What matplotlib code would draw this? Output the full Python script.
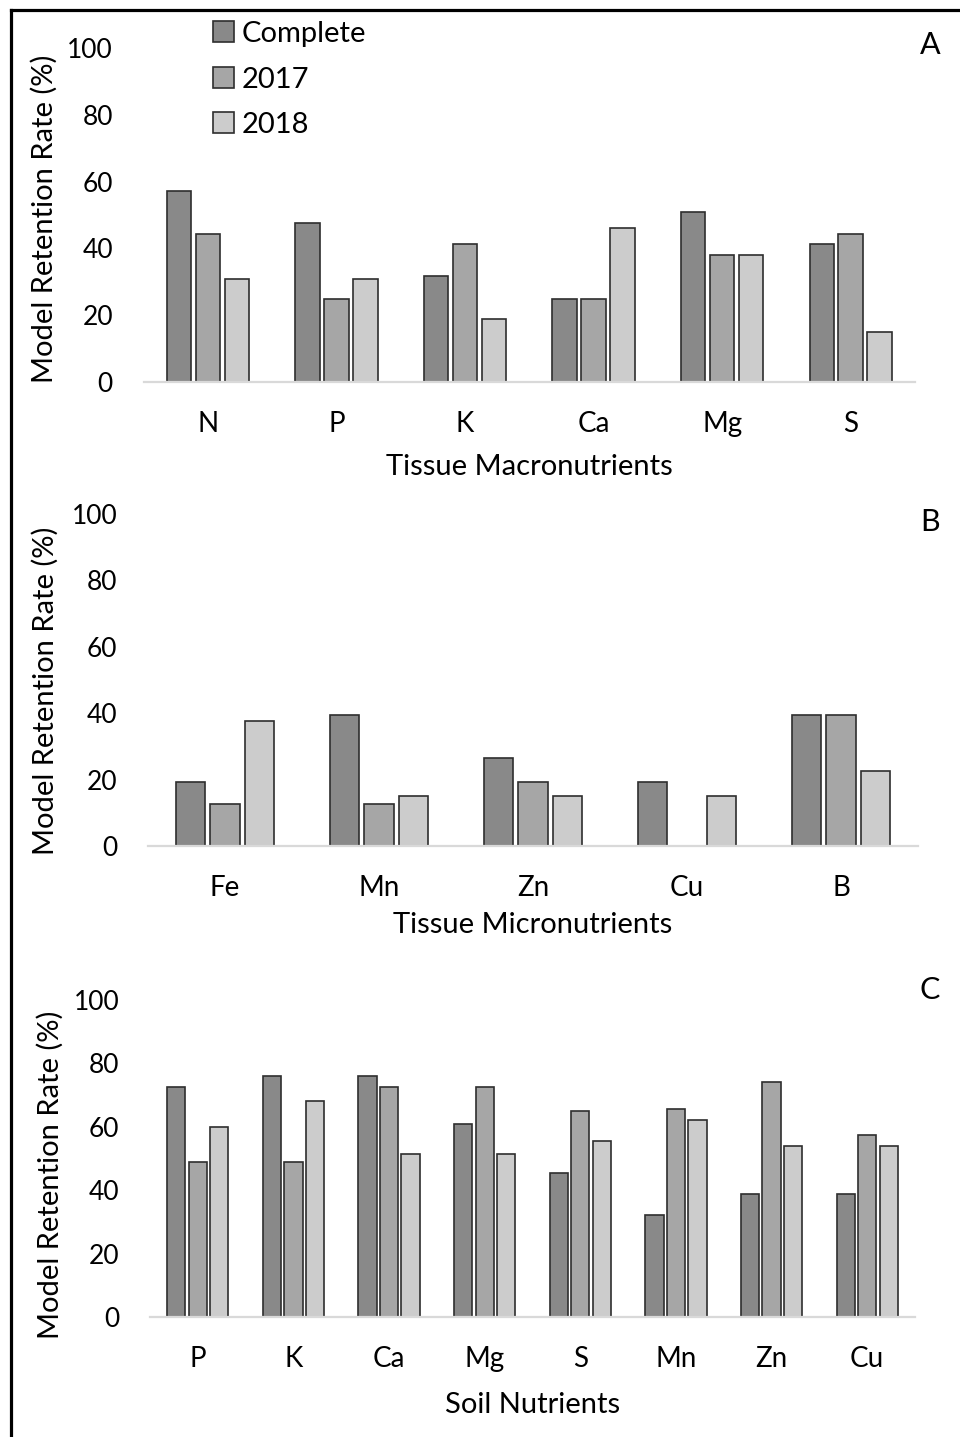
import numpy as np
import matplotlib
matplotlib.use("Agg")
import matplotlib.pyplot as plt
from matplotlib.lines import Line2D

plt.rcParams['font.family'] = ['Lato', 'DejaVu Sans']

W, H = 960, 1437

# Panel A: tissue macronutrients
macro_cats = ['N', 'P', 'K', 'Ca', 'Mg', 'S']
macro_complete = [57.1, 47.6, 31.6, 25.0, 51.0, 41.2]
macro_2017 = [44.4, 25.0, 41.2, 25.0, 38.1, 44.4]
macro_2018 = [30.8, 30.8, 19.0, 46.2, 38.1, 15.0]

# Panel B: tissue micronutrients
micro_cats = ['Fe', 'Mn', 'Zn', 'Cu', 'B']
micro_complete = [19.2, 39.5, 26.5, 19.2, 39.5]
micro_2017 = [12.6, 12.6, 19.2, 0.0, 39.5]
micro_2018 = [37.8, 15.2, 15.2, 15.2, 22.5]

# Panel C: soil nutrients
soil_cats = ['P', 'K', 'Ca', 'Mg', 'S', 'Mn', 'Zn', 'Cu']
soil_complete = [72.4, 75.9, 75.9, 60.8, 45.5, 32.3, 38.9, 38.9]
soil_2017 = [48.9, 48.9, 72.4, 72.4, 64.9, 65.6, 74.1, 57.4]
soil_2018 = [59.9, 68.2, 51.3, 51.3, 55.6, 62.3, 53.8, 53.8]

series_names = ['Complete', '2017', '2018']
series_colors = ['#898989', '#a6a6a6', '#cccccc']
yticks = [0, 20, 40, 60, 80, 100]


def px_rect(left, top, right, bottom):
    return [left / W, 1 - bottom / H, (right - left) / W, (bottom - top) / H]


def draw_panel(fig, rect, cats, values, xlabel, letter, ylab_xy, xtitle_y, letter_y):
    left, top, right, bottom = rect
    ax = fig.add_axes(px_rect(left, top, right, bottom))
    x = np.arange(len(cats))
    offsets = [-0.225, 0.0, 0.225]
    for vals, off, col, name in zip(values, offsets, series_colors, series_names):
        lw = [1.2 if v > 0 else 0 for v in vals]
        ax.bar(x + off, vals, width=0.19, color=col, edgecolor='#2e2e2e',
               linewidth=lw, label=name, zorder=3)
    ax.set_xlim(-0.5, len(cats) - 0.5)
    ax.set_ylim(0, 100)
    ax.set_yticks(yticks)
    ax.set_xticks(x)
    ax.set_xticklabels(cats)
    for side in ['top', 'right', 'left']:
        ax.spines[side].set_visible(False)
    ax.spines['bottom'].set_color('#d9d9d9')
    ax.spines['bottom'].set_linewidth(1.6)
    ax.spines['bottom'].set_zorder(4)
    ax.tick_params(axis='y', length=0, pad=22, labelsize=19)
    ax.tick_params(axis='x', length=0, pad=21, labelsize=20)
    height_px = bottom - top
    width_px = right - left
    # y title: right edge of the rotated text and its vertical centre, in pixels
    ax.set_ylabel('Model Retention Rate (%)', fontsize=21)
    ax.yaxis.set_label_coords((ylab_xy[0] - left) / width_px,
                              (bottom - ylab_xy[1]) / height_px)
    ax.set_xlabel(xlabel, fontsize=21)
    ax.xaxis.label.set_va('center')
    ax.xaxis.set_label_coords(0.5, -(xtitle_y - bottom) / height_px)
    fig.text(930 / W, 1 - letter_y / H, letter, fontsize=22, ha='center', va='center')
    return ax


fig = plt.figure(figsize=(W / 100, H / 100), dpi=100)

ax_a = draw_panel(fig, (143.5, 48, 915, 382), macro_cats,
                  [macro_complete, macro_2017, macro_2018],
                  'Tissue Macronutrients', 'A', (58, 219), 467, 45)
draw_panel(fig, (148, 514, 918, 846), micro_cats,
           [micro_complete, micro_2017, micro_2018],
           'Tissue Micronutrients', 'B', (59, 691), 925, 522)
draw_panel(fig, (150, 1000, 915, 1317), soil_cats,
           [soil_complete, soil_2017, soil_2018],
           'Soil Nutrients', 'C', (64, 1175), 1405, 990)

ax_a.legend(loc='upper left', bbox_to_anchor=(213 / W, 1 - 21 / H),
            bbox_transform=fig.transFigure, frameon=False, fontsize=21,
            handlelength=0.72, handleheight=0.72, handletextpad=0.25,
            labelspacing=0.67, borderpad=0, borderaxespad=0)

# frame around the figure (left and top edges)
fig.add_artist(Line2D([10.5 / W, 10.5 / W], [0, 1 - 9.5 / H], color='black',
                      linewidth=2.3, transform=fig.transFigure))
fig.add_artist(Line2D([10.5 / W, 1], [1 - 9.5 / H, 1 - 9.5 / H], color='black',
                      linewidth=2.3, transform=fig.transFigure))

fig.savefig('out.png', dpi=100)
